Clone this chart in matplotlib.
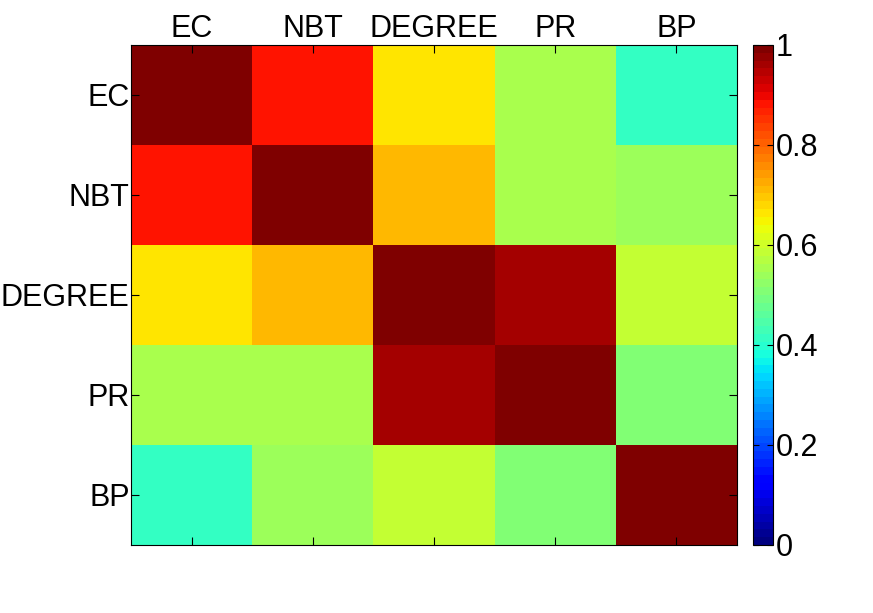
import matplotlib
matplotlib.use("Agg")
import matplotlib.pyplot as plt
import numpy as np

plt.rcParams['font.family'] = ['Liberation Sans', 'DejaVu Sans']

# correlation between ranking measures
labels = ["EC", "NBT", "DEGREE", "PR", "BP"]
row_ec = [1.00, 0.89, 0.67, 0.56, 0.415]
row_nbt = [0.89, 1.00, 0.705, 0.56, 0.54]
row_degree = [0.67, 0.705, 1.00, 0.955, 0.58]
row_pr = [0.56, 0.56, 0.955, 1.00, 0.51]
row_bp = [0.415, 0.54, 0.58, 0.51, 1.00]
corr = np.array([row_ec, row_nbt, row_degree, row_pr, row_bp])

fig = plt.figure(figsize=(8.73, 6.13), dpi=100)
ax = fig.add_axes([131/873, 1 - 545/613, (737-131)/873, 500/613])
cax = fig.add_axes([753/873, 1 - 545/613, 20/873, 500/613])

im = ax.imshow(corr, cmap=plt.get_cmap('jet', 64), vmin=0, vmax=1,
               aspect='auto', interpolation='nearest')
ax.set_xticks(range(5))
ax.set_yticks(range(5))
ax.set_xticklabels(labels, fontsize=22)
ax.set_yticklabels(labels, fontsize=22)
ax.xaxis.tick_top()
ax.tick_params(direction='in', top=True, bottom=True, left=True, right=True,
               length=6, width=0.8, pad=1)
for s in ax.spines.values():
    s.set_linewidth(0.8)

cb = fig.colorbar(im, cax=cax, ticks=[0, 0.2, 0.4, 0.6, 0.8, 1])
cb.ax.set_yticklabels(["0", "0.2", "0.4", "0.6", "0.8", "1"], fontsize=22)
cb.ax.tick_params(direction='in', left=True, right=True, length=4, width=0.8, pad=2)
cb.outline.set_linewidth(0.8)

fig.savefig("out.png", dpi=100)
